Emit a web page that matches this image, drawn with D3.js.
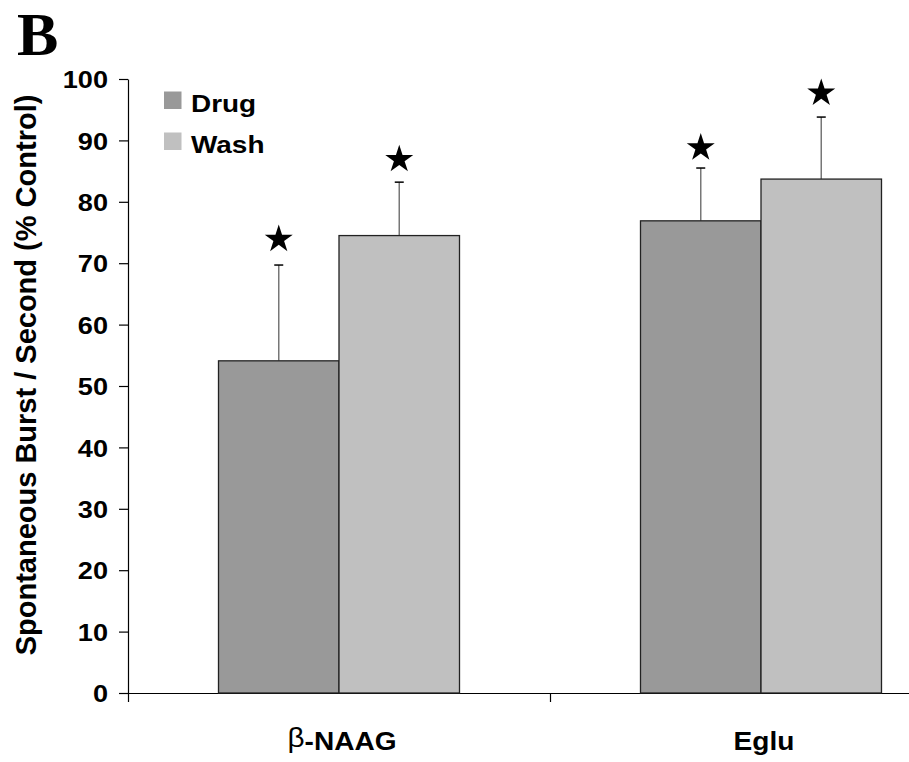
<!DOCTYPE html>
<html><head><meta charset="utf-8">
<script src="https://cdn.jsdelivr.net/npm/d3@7"></script>
<style>body{margin:0;background:#fff}svg{display:block}</style>
</head><body>
<script>
const categories = ["β-NAAG", "Eglu"];
const seriesNames = ["Drug", "Wash"];
const drugValues = [54.1, 76.9];
const washValues = [74.5, 83.7];
const drugErrTop = [69.7, 85.5];
const washErrTop = [83.2, 93.8];
const drugStarY = [73.9, 88.8];
const washStarY = [86.9, 97.7];
const yTicks = [0, 10, 20, 30, 40, 50, 60, 70, 80, 90, 100];
const colors = {Drug: "#999999", Wash: "#c0c0c0"};

const W = 909, H = 762;
const svg = d3.select("body").append("svg").attr("width", W).attr("height", H)
  .style("background", "#fff");

const x0 = d3.scaleBand().domain(categories).range([128, 972]);
const x1 = d3.scaleBand().domain(seriesNames).range([0, 241]);
const y = d3.scaleLinear().domain([0, 100]).range([693, 79]);
const font = "Arial, 'Liberation Sans', sans-serif";

function stretch(sel, f) {
  sel.each(function() {
    const len = this.getComputedTextLength();
    d3.select(this).attr("textLength", len * f).attr("lengthAdjust", "spacingAndGlyphs");
  });
}

// Panel letter
svg.append("text").attr("x", 17).attr("y", 55).text("B")
  .attr("font-family", "'Liberation Serif', 'Times New Roman', serif")
  .attr("font-weight", "bold").attr("font-size", 62);

// Y axis
const yAxis = svg.append("g").attr("transform", "translate(128,0)")
  .call(d3.axisLeft(y).tickValues(yTicks).tickSize(9).tickPadding(11).tickSizeOuter(0));
yAxis.select(".domain").attr("stroke", "#000").attr("stroke-width", 1.2);
yAxis.selectAll(".tick line").attr("stroke", "#000").attr("stroke-width", 1.2);
yAxis.selectAll(".tick text").attr("font-family", font).attr("font-weight", "bold")
  .attr("font-size", 24).attr("fill", "#000").attr("dy", "0.36em");
stretch(yAxis.selectAll(".tick text"), 1.13);

// X axis
const xAxis = svg.append("g").attr("transform", "translate(0,693)")
  .call(d3.axisBottom(d3.scaleLinear().domain([0, 2]).range([128, 972]))
    .tickValues([0, 1, 2]).tickSize(9).tickFormat("").tickSizeOuter(0));
xAxis.select(".domain").attr("stroke", "#000").attr("stroke-width", 1.2);
xAxis.selectAll(".tick line").attr("stroke", "#000").attr("stroke-width", 1.2);

// Bars
const rows = categories.map((c, i) => ({
  cat: c,
  items: [
    {s: "Drug", v: drugValues[i], e: drugErrTop[i], star: drugStarY[i]},
    {s: "Wash", v: washValues[i], e: washErrTop[i], star: washStarY[i]}
  ]
}));
const offset = (x0.bandwidth() - 241) / 2;
const g = svg.selectAll("g.cat").data(rows).enter().append("g")
  .attr("transform", d => `translate(${x0(d.cat) + offset},0)`);

g.selectAll("line.err").data(d => d.items).enter().append("line")
  .attr("x1", d => x1(d.s) + x1.bandwidth() / 2).attr("x2", d => x1(d.s) + x1.bandwidth() / 2)
  .attr("y1", d => y(d.v)).attr("y2", d => y(d.e))
  .attr("stroke", "#777").attr("stroke-width", 1.5);
g.selectAll("line.cap").data(d => d.items).enter().append("line")
  .attr("x1", d => x1(d.s) + x1.bandwidth() / 2 - 4.5).attr("x2", d => x1(d.s) + x1.bandwidth() / 2 + 4.5)
  .attr("y1", d => y(d.e)).attr("y2", d => y(d.e))
  .attr("stroke", "#000").attr("stroke-width", 1.5);

g.selectAll("rect").data(d => d.items).enter().append("rect")
  .attr("x", d => x1(d.s)).attr("width", x1.bandwidth())
  .attr("y", d => y(d.v)).attr("height", d => y(0) - y(d.v))
  .attr("fill", d => colors[d.s]).attr("stroke", "#222").attr("stroke-width", 1.3);

// Stars
g.selectAll("path.star").data(d => d.items).enter().append("path")
  .attr("d", d3.symbol().type(d3.symbolStar).size(243))
  .attr("transform", d => `translate(${x1(d.s) + x1.bandwidth() / 2},${y(d.star)})`)
  .attr("fill", "#000");

// X labels
const xl = svg.selectAll("text.xl").data(categories).enter().append("text")
  .attr("x", d => x0(d) + x0.bandwidth() / 2 + 3).attr("y", 750)
  .attr("text-anchor", "middle").attr("font-family", font)
  .attr("font-weight", "bold").attr("font-size", 25.5);
xl.each(function(d) {
  const t = d3.select(this);
  if (d.startsWith("β")) {
    t.append("tspan").text("β").attr("font-weight", "normal").attr("font-size", 27).attr("dy", -3);
    t.append("tspan").text(d.slice(1)).attr("dy", 3);
  } else t.text(d);
});
stretch(xl, 1.1);

// Y label
svg.append("text").attr("transform", "translate(36,375) rotate(-90)")
  .attr("text-anchor", "middle").attr("font-family", font)
  .attr("font-weight", "bold").attr("font-size", 29)
  .text("Spontaneous Burst / Second (% Control)");

// Legend
const leg = svg.selectAll("g.leg").data(seriesNames).enter().append("g")
  .attr("transform", (d, i) => `translate(164,${91.5 + i * 41})`);
leg.append("rect").attr("width", 17.5).attr("height", 17.5).attr("fill", d => colors[d]);
const lt = leg.append("text").attr("x", 27).attr("y", 20).text(d => d)
  .attr("font-family", font).attr("font-weight", "bold").attr("font-size", 24.5);
stretch(lt, 1.14);
</script>
</body></html>
